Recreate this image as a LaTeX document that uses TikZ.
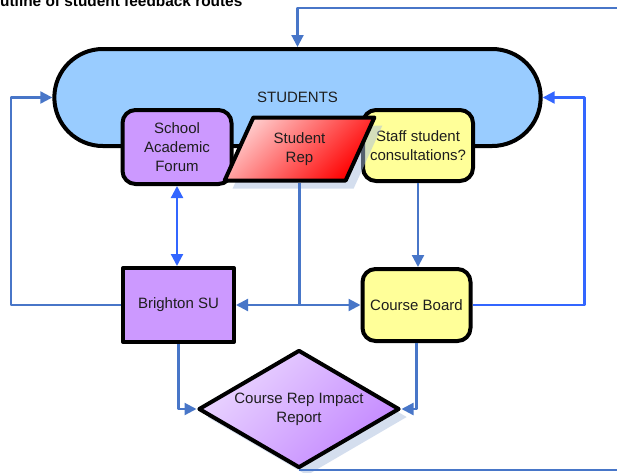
\documentclass[tikz,border=0pt]{standalone}
\usepackage{fontspec}
\setmainfont{Liberation Sans}
\usetikzlibrary{arrows}
\usetikzlibrary{arrows.meta}
\usetikzlibrary{shapes.geometric, shapes.misc}
\usetikzlibrary{shadows}
\definecolor{studblue}{RGB}{153,204,255}
\definecolor{forumlila}{RGB}{204,153,255}
\definecolor{boardgelb}{RGB}{255,255,153}
\definecolor{flowblue}{RGB}{72,118,200}
\definecolor{brightblue}{RGB}{51,102,255}
\definecolor{shadowgrey}{RGB}{170,190,222}
\definecolor{textgrey}{RGB}{30,30,30}

\begin{document}
\begin{tikzpicture}[x=1pt,y=-1pt,line join=round,>={Triangle[length=12pt,width=12pt]},
  box/.style={draw=black,line width=4pt,minimum width=109pt,minimum height=73pt,inner sep=0pt,align=center,text=textgrey,font=\fontsize{15}{19}\selectfont},
  roundbox/.style={box,rounded corners=13pt},
  flow/.style={draw=flowblue,line width=2.2pt},
  castshadow/.style={general shadow={fill=shadowgrey,opacity=0.5,shadow xshift=8pt,shadow yshift=-8pt}}]
\useasboundingbox (0,0) rectangle (617,472);
\clip (0,0) rectangle (617,472);

% Titel
\node[anchor=base west,inner sep=0pt,font=\fontsize{15.4}{18}\selectfont\bfseries] (title) at (0,6) {utline of student feedback routes};

% Die Knoten
\node[rounded rectangle,draw=black,line width=4pt,fill=studblue,minimum width=493pt,minimum height=97pt,text=textgrey,font=\fontsize{15}{18}\selectfont] (students) at (297.5,97.5) {STUDENTS};
\node[roundbox,fill=forumlila,minimum height=74pt] (saf) at (177,147) {School\\Academic\\Forum};
\node[roundbox,fill=boardgelb,minimum width=110pt,minimum height=71pt] (staff) at (418,145.5) {Staff student\\consultations?};
\node[box,trapezium,trapezium left angle=64,trapezium right angle=116,trapezium stretches=true,
  minimum width=150pt,minimum height=63pt,top color=red!20,middle color=red,bottom color=red,shading angle=45,castshadow] (rep) at (299.5,149) {Student\\Rep};
\node[box,fill=forumlila,minimum width=111pt,minimum height=74pt] (su) at (178.5,305) {Brighton SU};
\node[roundbox,fill=boardgelb,minimum width=108pt,minimum height=72pt] (board) at (416.5,305) {Course Board};
\node[box,diamond,aspect=1.7,minimum width=201pt,minimum height=118pt,
  top color=forumlila!40!white,bottom color={rgb,255:red,195;green,135;blue,255},shading angle=45,castshadow] (report) at (299,409) {Course Rep Impact\\Report};

% Die Pfeile
\coordinate (loopout) at (640,8);
\draw[flow,->] (report.south) -| (loopout) -| (students.north); % grosse Schleife
\draw[flow,->] (su.west) -- ++(-110,0) |- (students.west);
\draw[flow,draw=brightblue,->] (board.east) -- ++(112,0) |- (students.east);
\draw[flow,draw=brightblue,<->] (saf.south) -- (saf.south |- su.north);
\draw[flow] (rep.south) -- (rep.south |- su.east) coordinate (split);
\draw[flow,->] (split) -- (su.east);
\draw[flow,->] (split) -- (board.west);
\draw[flow,->] (staff.south) -- (staff.south |- board.north);
\draw[flow,->] (su.south) |- (report.west);
\draw[flow,->] (board.south) |- (report.east);
\end{tikzpicture}
\end{document}
